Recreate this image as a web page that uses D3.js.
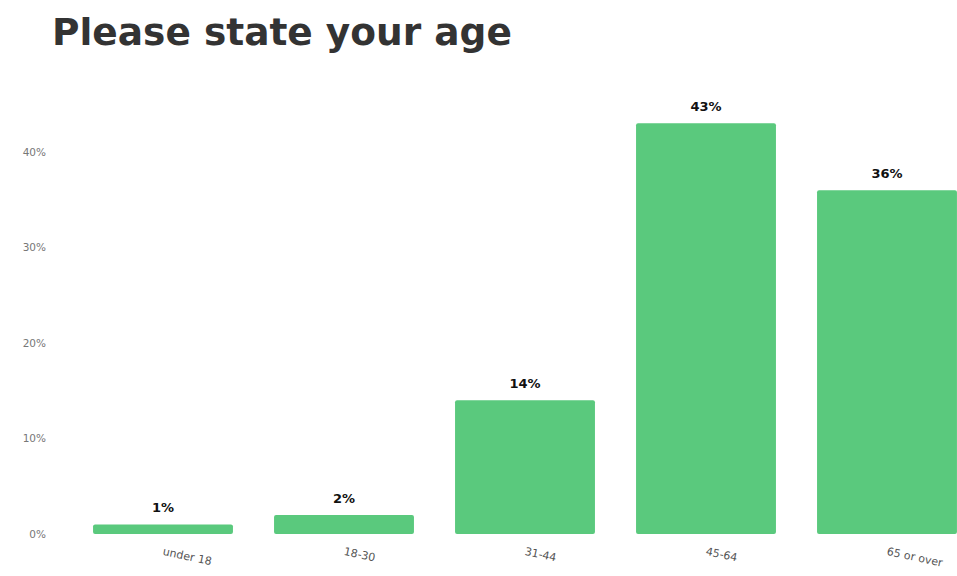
<!DOCTYPE html>
<html>
<head>
<meta charset="utf-8">
<script src="https://cdn.jsdelivr.net/npm/d3@7/dist/d3.min.js"></script>
<style>
  html, body { margin: 0; padding: 0; background: #fff; }
  svg { display: block; font-family: "DejaVu Sans", sans-serif; }
</style>
</head>
<body>
<svg id="chart" width="957" height="576"></svg>
<script>
// Survey answers: share of respondents per age group
const categories = ["under 18", "18-30", "31-44", "45-64", "65 or over"];
const shares = [1, 2, 14, 43, 36];
const yTicks = [0, 10, 20, 30, 40];
const titleText = "Please state your age";

const svg = d3.select("#chart");

const x = d3.scaleBand()
  .domain(categories)
  .range([72.5, 977.5])
  .paddingInner(0.227)
  .paddingOuter(0.1135);

const y = d3.scaleLinear()
  .domain([0, 40])
  .range([534, 152]);

// Title
svg.append("text")
  .attr("x", 52)
  .attr("y", 45)
  .attr("font-size", 37.5)
  .attr("font-weight", "bold")
  .attr("fill", "#333")
  .text(titleText);

// Y axis labels (no line, no ticks)
const yAxis = d3.axisLeft(y)
  .tickValues(yTicks)
  .tickSize(0)
  .tickPadding(0)
  .tickFormat(d => d + "%");
const yg = svg.append("g")
  .attr("transform", "translate(46,0)")
  .call(yAxis);
yg.select(".domain").remove();
yg.selectAll("text")
  .attr("font-family", "DejaVu Sans, sans-serif")
  .attr("font-size", 10.5)
  .attr("fill", "#777");

// Bars
svg.append("g")
  .selectAll("rect")
  .data(categories)
  .join("rect")
  .attr("x", d => x(d))
  .attr("width", x.bandwidth())
  .attr("y", (d, i) => y(shares[i]))
  .attr("height", (d, i) => y(0) - y(shares[i]))
  .attr("rx", 2)
  .attr("fill", "#5ac97d");

// Value labels
svg.append("g")
  .selectAll("text")
  .data(categories)
  .join("text")
  .attr("x", d => x(d) + x.bandwidth() / 2)
  .attr("y", (d, i) => y(shares[i]) - 12)
  .attr("text-anchor", "middle")
  .attr("font-size", 13)
  .attr("font-weight", "bold")
  .attr("fill", "#111")
  .text((d, i) => shares[i] + "%");

// X axis labels, rotated slightly
const xAxis = d3.axisBottom(x).tickSize(0).tickPadding(0);
const xg = svg.append("g")
  .attr("transform", "translate(0,551)")
  .call(xAxis);
xg.select(".domain").remove();
xg.selectAll("text")
  .attr("font-family", "DejaVu Sans, sans-serif")
  .attr("font-size", 11)
  .attr("fill", "#555")
  .attr("text-anchor", "start")
  .attr("dy", "0.35em")
  .attr("transform", "rotate(12)");
</script>
</body>
</html>
